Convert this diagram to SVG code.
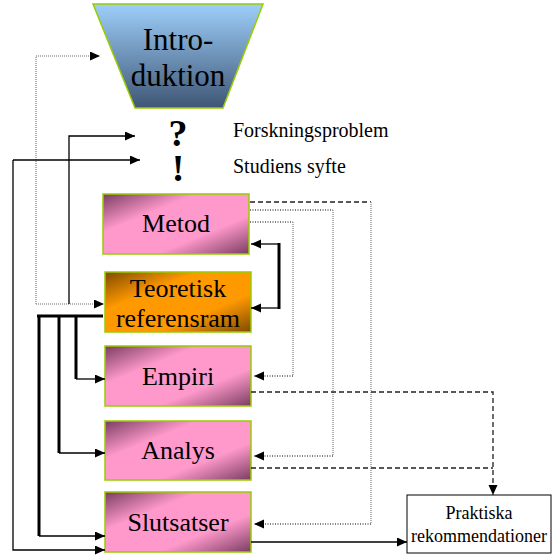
<svg xmlns="http://www.w3.org/2000/svg" width="552" height="556" viewBox="0 0 552 556">
<style>
.t{font-family:"Liberation Serif","Times New Roman",serif;fill:#000}
.box{stroke:#99cc00;stroke-width:1.5}
.solid{fill:none;stroke:#000;stroke-width:1.3}
.thick{fill:none;stroke:#000;stroke-width:3}
.gdot{fill:none;stroke:#9a9a9a;stroke-width:1.5;stroke-dasharray:1 1}
.bdot{fill:none;stroke:#000;stroke-width:1.2;stroke-dasharray:1 1.5}
.dash{fill:none;stroke:#222;stroke-width:1.3;stroke-dasharray:5 3}
</style>
<defs>
<linearGradient id="gIntro" x1="0" y1="0" x2="0" y2="1">
<stop offset="0" stop-color="#9dcffa"/>
<stop offset="1" stop-color="#3f5675"/>
</linearGradient>
<linearGradient id="gPink" x1="0" y1="0" x2="1" y2="1">
<stop offset="0" stop-color="#7a3d62"/>
<stop offset="0.32" stop-color="#ff99cc"/>
<stop offset="0.68" stop-color="#ff99cc"/>
<stop offset="1" stop-color="#7a3d62"/>
</linearGradient>
<linearGradient id="gOrange" x1="0" y1="0" x2="1" y2="1">
<stop offset="0" stop-color="#7f4a00"/>
<stop offset="0.32" stop-color="#ff9900"/>
<stop offset="0.68" stop-color="#ff9900"/>
<stop offset="1" stop-color="#7f4a00"/>
</linearGradient>
<marker id="ah" markerUnits="userSpaceOnUse" markerWidth="12" markerHeight="10" refX="10" refY="4.5" orient="auto-start-reverse">
<path d="M0,0 L10,4.5 L0,9 Z" fill="#000"/>
</marker>
</defs>

<g id="intro">
<polygon class="box" points="93,4 263,4 223,108 135,108" fill="url(#gIntro)"/>
<text class="t" x="178" y="50" font-size="31" text-anchor="middle">Intro-</text>
<text class="t" x="178" y="86" font-size="31" text-anchor="middle">duktion</text>
</g>

<g id="forskningsproblem">
<text class="t" x="178" y="146" font-size="38" font-weight="bold" text-anchor="middle">?</text>
<text class="t" x="233" y="137" font-size="20">Forskningsproblem</text>
</g>

<g id="syfte">
<text class="t" x="178" y="181" font-size="38" font-weight="bold" text-anchor="middle">!</text>
<text class="t" x="233" y="173" font-size="20">Studiens syfte</text>
</g>

<g id="metod">
<rect class="box" x="103" y="194" width="146" height="60" fill="url(#gPink)"/>
<text class="t" x="176" y="232" font-size="26" text-anchor="middle">Metod</text>
</g>

<g id="teoretisk">
<rect class="box" x="105" y="272" width="146" height="60" fill="url(#gOrange)"/>
<text class="t" x="178" y="297" font-size="26" text-anchor="middle">Teoretisk</text>
<text class="t" x="178" y="327" font-size="26" text-anchor="middle">referensram</text>
</g>

<g id="empiri">
<rect class="box" x="105" y="346" width="146" height="60" fill="url(#gPink)"/>
<text class="t" x="178" y="385" font-size="26" text-anchor="middle">Empiri</text>
</g>

<g id="analys">
<rect class="box" x="105" y="421" width="146" height="59" fill="url(#gPink)"/>
<text class="t" x="178" y="459" font-size="26" text-anchor="middle">Analys</text>
</g>

<g id="slutsatser">
<rect class="box" x="105" y="492" width="146" height="60" fill="url(#gPink)"/>
<text class="t" x="178" y="531" font-size="26" text-anchor="middle">Slutsatser</text>
</g>

<g id="praktiska">
<rect x="407" y="495" width="144" height="58" fill="#fff" stroke="#000" stroke-width="1"/>
<text class="t" x="479" y="519" font-size="18" text-anchor="middle">Praktiska</text>
<text class="t" x="479" y="542" font-size="18" text-anchor="middle">rekommendationer</text>
</g>

<g id="connectors">
<path class="gdot" d="M36,304 V56 H100" marker-end="url(#ah)"/>
<path class="gdot" d="M36,304 H104" marker-end="url(#ah)"/>
<path class="solid" d="M69,304 V136 H135" marker-end="url(#ah)"/>
<path class="solid" d="M13,160 H140" marker-end="url(#ah)"/>
<path class="solid" d="M13,160 V550 H105" marker-end="url(#ah)"/>

<path class="thick" d="M37,316 H103"/>
<path class="thick" d="M39,316 V536"/>
<path class="thick" d="M59,316 V453"/>
<path class="thick" d="M76,316 V379"/>
<path class="solid" d="M39,536 H105" stroke-width="1.5" marker-end="url(#ah)"/>
<path class="solid" d="M59,453 H105" stroke-width="1.5" marker-end="url(#ah)"/>
<path class="solid" d="M76,379 H105" stroke-width="1.5" marker-end="url(#ah)"/>

<path class="solid" d="M279,244 H251" stroke="#333" marker-end="url(#ah)"/>
<path class="solid" d="M279,308 H251" stroke="#333" marker-end="url(#ah)"/>
<path class="thick" d="M279,243 V309" stroke-width="2.5"/>

<path class="dash" d="M250,202 H371"/>
<path class="gdot" d="M371,202 V524"/>
<path class="bdot" d="M371,524 H254" marker-end="url(#ah)"/>
<path class="bdot" d="M250,210 H333"/>
<path class="gdot" d="M333,210 V456"/>
<path class="bdot" d="M333,456 H254" marker-end="url(#ah)"/>
<path class="bdot" d="M250,222 H293"/>
<path class="gdot" d="M293,222 V376"/>
<path class="bdot" d="M293,376 H254" marker-end="url(#ah)"/>

<path class="dash" d="M251,392 H493 V495" marker-end="url(#ah)"/>
<path class="dash" d="M251,468 H493"/>
<path class="solid" d="M251,542 H407" marker-end="url(#ah)"/>
</g>
</svg>
